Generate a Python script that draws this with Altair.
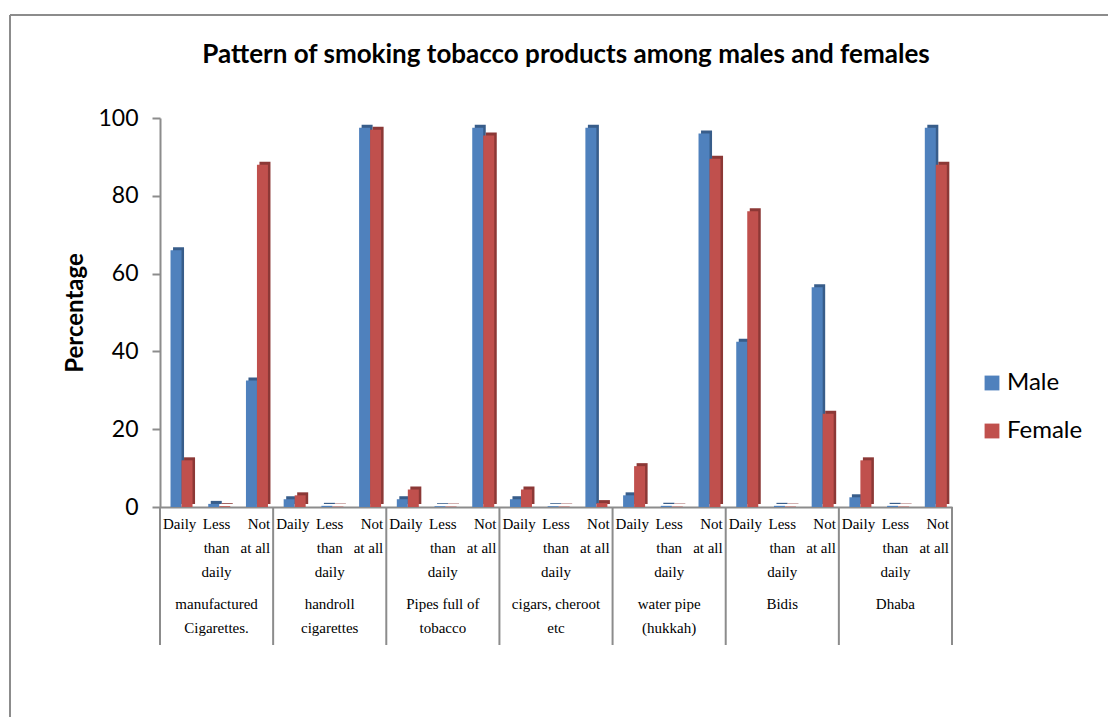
import altair as alt
import pandas as pd

# ---- data ----
groups = ["manufactured Cigarettes.", "handroll cigarettes", "Pipes full of tobacco",
          "cigars, cheroot etc", "water pipe (hukkah)", "Bidis", "Dhaba"]
group_lines = ["manufactured\nCigarettes.", "handroll\ncigarettes", "Pipes full of\ntobacco",
               "cigars, cheroot\netc", "water pipe\n(hukkah)", "Bidis", "Dhaba"]
levels = ["Daily", "Less than daily", "Not at all"]
level_lines = ["Daily", "Less\nthan\ndaily", "Not\nat all"]
genders = ["Male", "Female"]
male = [[66, 0.8, 32.5], [2, 0.3, 97.5], [2, 0.2, 97.5], [2, 0.2, 97.5],
        [3, 0.3, 96], [42.5, 0.3, 56.5], [2.5, 0.3, 97.5]]
female = [[12, 0.2, 88], [3, 0.1, 97], [4.5, 0.1, 95.5], [4.5, 0.1, 1],
          [10.5, 0.1, 89.5], [76, 0.1, 24], [12, 0.1, 88]]
y_ticks = [0, 20, 40, 60, 80, 100]
title_text = "Pattern of smoking tobacco products among males and females"

rows = []
for gi, g in enumerate(groups):
    for li, lv in enumerate(levels):
        key = f"{gi}|{lv}"
        rows.append(dict(key=key, group=g, level=lv, gender="Male", value=male[gi][li]))
        rows.append(dict(key=key, group=g, level=lv, gender="Female", value=female[gi][li]))
df = pd.DataFrame(rows)
keys = [f"{gi}|{lv}" for gi in range(len(groups)) for lv in levels]

sub = pd.DataFrame({"key": keys,
                    "level": [lv for _ in groups for lv in levels],
                    "label": [ll for _ in groups for ll in level_lines]})
glab = pd.DataFrame({"key": [f"{gi}|Less than daily" for gi in range(len(groups))],
                     "label": group_lines})
seps = pd.DataFrame({"key": [f"{gi}|Daily" for gi in range(len(groups))]})
seps_end = pd.DataFrame({"key": [keys[-1]]})
one = pd.DataFrame({"t": [title_text]})

W, H = 792, 389
PL, PT = 160, 118
GRAY = "#8c8c8c"

xscale = alt.Scale(domain=keys, paddingInner=0, paddingOuter=0)
yscale = alt.Scale(domain=[0, 100])
xoff_front = alt.Scale(domain=genders, paddingInner=0, paddingOuter=0.714, align=0.67)
xoff_side = alt.Scale(domain=genders, paddingInner=0, paddingOuter=0.714, align=0.83)
front_col = alt.Scale(domain=genders, range=["#4F81BD", "#C0504D"])
side_col = alt.Scale(domain=genders, range=["#385D8A", "#8C3836"])

xaxis = alt.Axis(title=None, labels=False, ticks=False, domainColor=GRAY, domainWidth=2)
yaxis = alt.Axis(values=y_ticks, title="Percentage", titleFont="Lato", titleFontSize=24,
                 titleFontWeight="bold", titleColor="black", titlePadding=10,
                 labelFont="Lato", labelFontSize=23, labelColor="black", labelPadding=14,
                 tickSize=8, tickWidth=2, tickColor=GRAY, domainColor=GRAY, domainWidth=2,
                 grid=False)

base = alt.Chart(df)
side = base.mark_bar(yOffset=-3).encode(
    x=alt.X("key:N", scale=xscale, axis=xaxis, sort=keys),
    xOffset=alt.XOffset("gender:N", scale=xoff_side, sort=genders),
    y=alt.Y("value:Q", scale=yscale, axis=yaxis),
    color=alt.Color("gender:N", scale=side_col, legend=None),
)
front = base.mark_bar().encode(
    x=alt.X("key:N", scale=xscale, sort=keys),
    xOffset=alt.XOffset("gender:N", scale=xoff_front, sort=genders),
    y=alt.Y("value:Q", scale=yscale),
    color=alt.Color("gender:N", scale=front_col, sort=genders,
                    legend=alt.Legend(title=None, orient="none", legendX=820, legendY=253,
                                      symbolType="square", symbolSize=220, symbolStrokeWidth=0,
                                      labelFont="Lato", labelFontSize=24, labelColor="black",
                                      rowPadding=24, labelOffset=3)),
)

txt = dict(font="Liberation Serif", fontSize=15, lineBreak="\n", lineHeight=24,
           baseline="top", color="black")
sub_daily = alt.Chart(sub).transform_filter(alt.datum.level == "Daily").mark_text(
    align="left", dx=3, **txt).encode(
    x=alt.X("key:N", scale=xscale, sort=keys, bandPosition=0),
    y=alt.value(H + 10), text="label:N")
sub_less = alt.Chart(sub).transform_filter(alt.datum.level == "Less than daily").mark_text(
    align="center", **txt).encode(
    x=alt.X("key:N", scale=xscale, sort=keys),
    y=alt.value(H + 10), text="label:N")
sub_not = alt.Chart(sub).transform_filter(alt.datum.level == "Not at all").mark_text(
    align="right", dx=-3, **txt).encode(
    x=alt.X("key:N", scale=xscale, sort=keys, bandPosition=1),
    y=alt.value(H + 10), text="label:N")

group_text = alt.Chart(glab).mark_text(align="center", **txt).encode(
    x=alt.X("key:N", scale=xscale, sort=keys),
    y=alt.value(H + 90),
    text="label:N",
)
sep_rules = alt.Chart(seps).mark_rule(color=GRAY, strokeWidth=2).encode(
    x=alt.X("key:N", scale=xscale, sort=keys, bandPosition=0),
    y=alt.value(H), y2=alt.value(H + 138),
)
sep_end = alt.Chart(seps_end).mark_rule(color=GRAY, strokeWidth=2).encode(
    x=alt.X("key:N", scale=xscale, sort=keys, bandPosition=1),
    y=alt.value(H), y2=alt.value(H + 138),
)
title = alt.Chart(one).mark_text(font="Lato", fontSize=26, fontWeight="bold",
                                 color="black", baseline="middle").encode(
    x=alt.value(W / 2 + 10), y=alt.value(55 - PT), text="t:N")
border_top = alt.Chart(one).mark_rule(color=GRAY, strokeWidth=2).encode(
    x=alt.value(10 - PL), x2=alt.value(1108 - PL), y=alt.value(15 - PT))
border_left = alt.Chart(one).mark_rule(color=GRAY, strokeWidth=2).encode(
    x=alt.value(10 - PL), y=alt.value(15 - PT), y2=alt.value(717 - PT))

chart = alt.layer(
    border_top, border_left, title, sep_rules, sep_end, side, front,
    sub_daily, sub_less, sub_not, group_text
).resolve_scale(color="independent", xOffset="independent").properties(
    width=W, height=H,
    autosize=alt.AutoSizeParams(type="none"),
    padding={"left": PL, "top": PT, "right": 1108 - PL - W, "bottom": 717 - PT - H},
    background="white",
).configure_view(stroke=None)

chart.save("out.html", embed_options={"renderer": "svg", "actions": False})
